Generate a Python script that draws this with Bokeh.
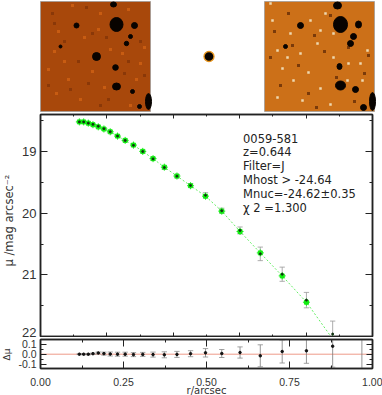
from math import pi
from bokeh.plotting import figure
from bokeh.core.properties import value
from bokeh.models import LinearAxis, Range1d, FixedTicker, Label, ColumnDataSource, NumeralTickFormatter
from bokeh.embed import file_html
from bokeh.resources import INLINE

FONT = "DejaVu Sans"
TICKFONT = "Liberation Sans"

# Radial profile
radius = [0.117, 0.130, 0.144, 0.158, 0.174, 0.191, 0.210, 0.232, 0.255, 0.280, 0.308,
          0.339, 0.373, 0.411, 0.452, 0.497, 0.546, 0.601, 0.662, 0.728, 0.801, 0.880]
mu_data = [18.52, 18.52, 18.54, 18.56, 18.59, 18.63, 18.68, 18.75, 18.82, 18.90, 19.00,
           19.12, 19.26, 19.40, 19.55, 19.71, 19.96, 20.28, 20.66, 20.99, 21.41, 21.96]
residual = [0.0, 0.0, 0.0, 0.005, 0.012, 0.006, 0.002, 0.0, 0.0, -0.004, -0.002,
            -0.004, -0.006, -0.002, 0.005, 0.014, 0.007, 0.017, -0.016, 0.027, 0.034, 0.08]
mu_model = [18.52, 18.52, 18.54, 18.565, 18.60, 18.635, 18.68, 18.75, 18.82, 18.896, 18.998,
            19.116, 19.254, 19.398, 19.555, 19.724, 19.967, 20.297, 20.644, 21.017, 21.444, 22.04]
error = [0.004, 0.005, 0.006, 0.007, 0.01, 0.015, 0.02, 0.02, 0.02, 0.02, 0.02,
         0.025, 0.03, 0.03, 0.03, 0.042, 0.04, 0.056, 0.11, 0.115, 0.125, 0.21]

mu_ticks = [19, 20, 21, 22]
delta_ticks = [-0.1, 0.0, 0.1]
r_ticks = [0.0, 0.25, 0.5, 0.75, 1.0]
info = ["0059-581", "z=0.644", "Filter=J", "Mhost > -24.64", "Mnuc=-24.62±0.35", "χ 2 =1.300"]
info_mu = [18.79, 19.01, 19.24, 19.46, 19.69, 19.92]

# Dark sources in the image cut-outs: x, y, half-width, half-height in cut-out pixels
host_x = [76, 73, 36, 94, 90, 86, 20, 56, 75, 76, 92, 108, 99]
host_y = [23, 3, 24, 24, 35, 42, 45, 55, 66, 85, 90, 100, 105]
host_w = [6.5, 3, 2.5, 3, 2, 2.2, 1.5, 4, 2.8, 4, 2, 3, 2]
host_h = [7, 2.5, 2.5, 3, 2, 2.2, 1.5, 4, 2.8, 3.5, 2, 8, 2]
resid_x = [76, 73, 36, 94, 89, 86, 21, 75, 76, 91, 108, 99]
resid_y = [23, 4, 24, 23, 35, 42, 45, 65, 84, 88, 100, 106]
resid_w = [7, 4, 3, 3, 3, 3, 2, 2.5, 5, 3, 3, 3]
resid_h = [8, 3.5, 3, 3.5, 3, 3, 2, 3, 4.5, 3, 9, 3]

# A sample of the bright and dark grains seen in the cut-outs (cut-out pixels)
host_bright_x = [32, 18, 60, 88, 14, 44, 70, 100, 8, 28, 52, 82, 96, 16, 40, 64, 90, 24, 58, 104]
host_bright_y = [4, 30, 12, 8, 50, 36, 48, 62, 68, 78, 70, 52, 78, 92, 98, 86, 104, 60, 28, 46]
host_dark_x = [12, 46, 66, 100, 24, 52, 38, 8, 84, 68, 30, 104, 48, 14, 60, 88]
host_dark_y = [12, 6, 36, 40, 40, 32, 60, 84, 72, 98, 88, 74, 82, 22, 104, 60]
resid_white_x = [13, 18, 36, 53, 69, 44, 29, 56, 96, 103, 8, 26, 46, 61, 83, 13, 38, 66, 98, 23, 84, 56, 6, 69]
resid_white_y = [49, 67, 52, 42, 56, 71, 79, 87, 62, 49, 19, 32, 19, 12, 79, 96, 99, 103, 79, 56, 62, 29, 2, 32]
resid_black_x = [10, 24, 50, 66, 104, 34, 60, 16, 44, 90, 72, 6, 28, 84, 52, 100]
resid_black_y = [30, 12, 34, 14, 54, 64, 50, 84, 92, 100, 76, 56, 44, 46, 106, 72]

source = ColumnDataSource(dict(r=radius, mu=mu_data, model=mu_model, resid=residual,
                               mu_up=[m + e for m, e in zip(mu_data, error)],
                               mu_lo=[m - e for m, e in zip(mu_data, error)],
                               d_up=[d + e for d, e in zip(residual, error)],
                               d_lo=[d - e for d, e in zip(residual, error)]))

def place(fig, y):
    fig.styles = {"position": "absolute", "left": "0px", "top": f"{y}px"}

# ---------- cut-out strip ----------
top = figure(width=382, height=113, x_range=Range1d(0, 382), y_range=Range1d(113, 0),
             toolbar_location=None, output_backend="svg", min_border=0, outline_line_color=None,
             x_axis_location=None, y_axis_location=None)
top.grid.visible = False
top.rect(x=95, y=56, width=110, height=110, fill_color="#A8480B", line_color="#9a9a9a", line_width=0.7)
top.rect(x=319, y=56, width=110, height=110, fill_color="#CC7018", line_color="#9a9a9a", line_width=0.7)

def grains(fig, xs, ys, x0, color, size):
    fig.rect(x=[x0 + v for v in xs], y=[1 + v for v in ys], width=size, height=size,
             color=color, line_width=0)

grains(top, host_bright_x, host_bright_y, 40, "#C85C12", 3)
grains(top, host_dark_x, host_dark_y, 40, "#8A3808", 3)
grains(top, resid_white_x, resid_white_y, 264, "#EED9B0", 2.5)
grains(top, resid_black_x, resid_black_y, 264, "#7A3A0A", 3)
top.ellipse(x=[40 + v for v in host_x], y=[1 + v for v in host_y],
            width=[2 * v for v in host_w], height=[2 * v for v in host_h], color="#080300")
top.ellipse(x=[264 + v for v in resid_x], y=[1 + v for v in resid_y],
            width=[2 * v for v in resid_w], height=[2 * v for v in resid_h], color="#080300")
top.ellipse(x=[208.5], y=[56], width=[10], height=[10], fill_color="#080300", line_color="#E8951E", line_width=1.3)
place(top, 0)

# ---------- main panel ----------
main = figure(width=382, height=224, x_range=Range1d(0, 1), y_range=Range1d(22, 18.4),
              toolbar_location=None, output_backend="svg", min_border_left=40, min_border_right=10,
              min_border_top=1, min_border_bottom=1, x_axis_location=None,
              outline_line_color="#222222", outline_line_width=1.5)
main.grid.visible = False

def style(ax, major, minor, mlen, nlen, size=None):
    ax.ticker = FixedTicker(ticks=major, minor_ticks=minor)
    ax.major_tick_in = mlen
    ax.major_tick_out = 0
    ax.minor_tick_in = nlen
    ax.minor_tick_out = 0
    ax.axis_line_color = "#222222"
    ax.axis_line_width = 1.5
    ax.major_tick_line_color = "#222222"
    ax.minor_tick_line_color = "#222222"
    ax.major_label_text_font = TICKFONT
    ax.major_label_text_color = "#333333"
    if size:
        ax.major_label_text_font_size = size
    else:
        ax.major_label_overrides = {t: "" for t in major}
        ax.major_label_standoff = 0

mu_minor = [18.5, 19.5, 20.5, 21.5]
r_major = [0.2, 0.4, 0.6, 0.8]
r_minor = [0.1, 0.3, 0.5, 0.7, 0.9]
y0 = main.yaxis[0]
style(y0, mu_ticks, mu_minor, 7, 3, "13px")
y0.major_label_standoff = 4
y0.major_label_overrides = {22: ""}
right = LinearAxis(); style(right, mu_ticks, mu_minor, 7, 3); main.add_layout(right, "right")
above = LinearAxis(); style(above, r_major, r_minor, 4, 2); main.add_layout(above, "above")
below = LinearAxis(); style(below, r_major, r_minor, 4, 2); main.add_layout(below, "below")

main.line("r", "model", source=source, color="#66EE66", line_width=1, line_dash="2 2")
main.segment("r", "mu_up", "r", "mu_lo", source=source, color="#999999", line_width=0.8)
cap = 0.008
main.multi_line(xs=[[r - cap, r + cap] for r in radius], ys=[[u, u] for u in source.data["mu_up"]],
                color="#999999", line_width=0.8)
main.multi_line(xs=[[r - cap, r + cap] for r in radius], ys=[[l, l] for l in source.data["mu_lo"]],
                color="#999999", line_width=0.8)
main.scatter("r", "model", source=source, marker="square", size=4, color="#12EE12")
main.scatter("r", "model", source=source, marker="cross", size=7, line_color="#12EE12", line_width=1)
main.scatter("r", "mu", source=source, marker="circle", size=2, color="#103010")

for m, line in zip(info_mu, info):
    main.add_layout(Label(x=0.61, y=m, text=line, text_align="left", text_baseline="middle",
                          text_font=FONT, text_font_size="11.5px", text_color="#222222"))
place(main, 113)

# ---------- residual panel ----------
low = figure(width=382, height=58, x_range=Range1d(0, 1), y_range=Range1d(-0.143, 0.147),
             toolbar_location=None, output_backend="svg", min_border_left=40, min_border_right=10,
             min_border_top=2, min_border_bottom=27,
             outline_line_color="#222222", outline_line_width=1.5)
low.grid.visible = False
r_minor2 = [0.125, 0.375, 0.625, 0.875]
xa = low.xaxis[0]
style(xa, r_ticks, r_minor2, 7, 3, "10.5px")
xa.formatter = NumeralTickFormatter(format="0.00")
xa.major_label_standoff = 9
ya = low.yaxis[0]
delta_minor = [-0.05, 0.05]
style(ya, delta_ticks, delta_minor, 6, 3, "10.5px")
ya.formatter = NumeralTickFormatter(format="0.0")
ya.major_label_standoff = 4
r2 = LinearAxis(); style(r2, delta_ticks, delta_minor, 6, 3); low.add_layout(r2, "right")
a2 = LinearAxis(); style(a2, r_ticks, r_minor2, 7, 3); low.add_layout(a2, "above")

low.line(x=[0, 1], y=[0, 0], color="#EE9A88", line_width=1)
low.line(x=[0.968, 0.968], y=[-0.143, 0.147], color="#777777", line_width=0.8)
low.segment("r", "d_up", "r", "d_lo", source=source, color="#7a7a7a", line_width=0.8)
low.multi_line(xs=[[r - cap, r + cap] for r in radius], ys=[[u, u] for u in source.data["d_up"]],
               color="#8a8a8a", line_width=0.8)
low.multi_line(xs=[[r - cap, r + cap] for r in radius], ys=[[l, l] for l in source.data["d_lo"]],
               color="#8a8a8a", line_width=0.8)
low.scatter("r", "resid", source=source, marker="circle", size=2.5, color="#111111")
place(low, 337)

# ---------- labels that sit outside the panels' own plotting areas ----------
over = figure(width=382, height=395, x_range=Range1d(0, 382), y_range=Range1d(395, 0),
              toolbar_location=None, output_backend="svg", min_border=0, outline_line_color=None,
              background_fill_color=None, border_fill_color=None,
              x_axis_location=None, y_axis_location=None)
over.grid.visible = False
over.text(x=[36], y=[332], text=["22"], text_align="right", text_baseline="middle",
          text_font=value(TICKFONT), text_font_size="13px", text_color="#333333")
over.text(x=[8], y=[220], text=["µ /mag arcsec⁻²"], angle=pi / 2, text_align="center", text_baseline="middle",
          text_font=value(FONT), text_font_size="11.5px", text_color="#333333")
over.text(x=[6], y=[354], text=["Δµ"], angle=pi / 2, text_align="center", text_baseline="middle",
          text_font=value(FONT), text_font_size="9px", text_color="#333333")
over.text(x=[206], y=[390], text=["r/arcsec"], text_align="center", text_baseline="middle",
          text_font=value(FONT), text_font_size="10px", text_color="#333333")
place(over, 0)

open("out.html", "w").write(file_html([top, main, low, over], INLINE))
